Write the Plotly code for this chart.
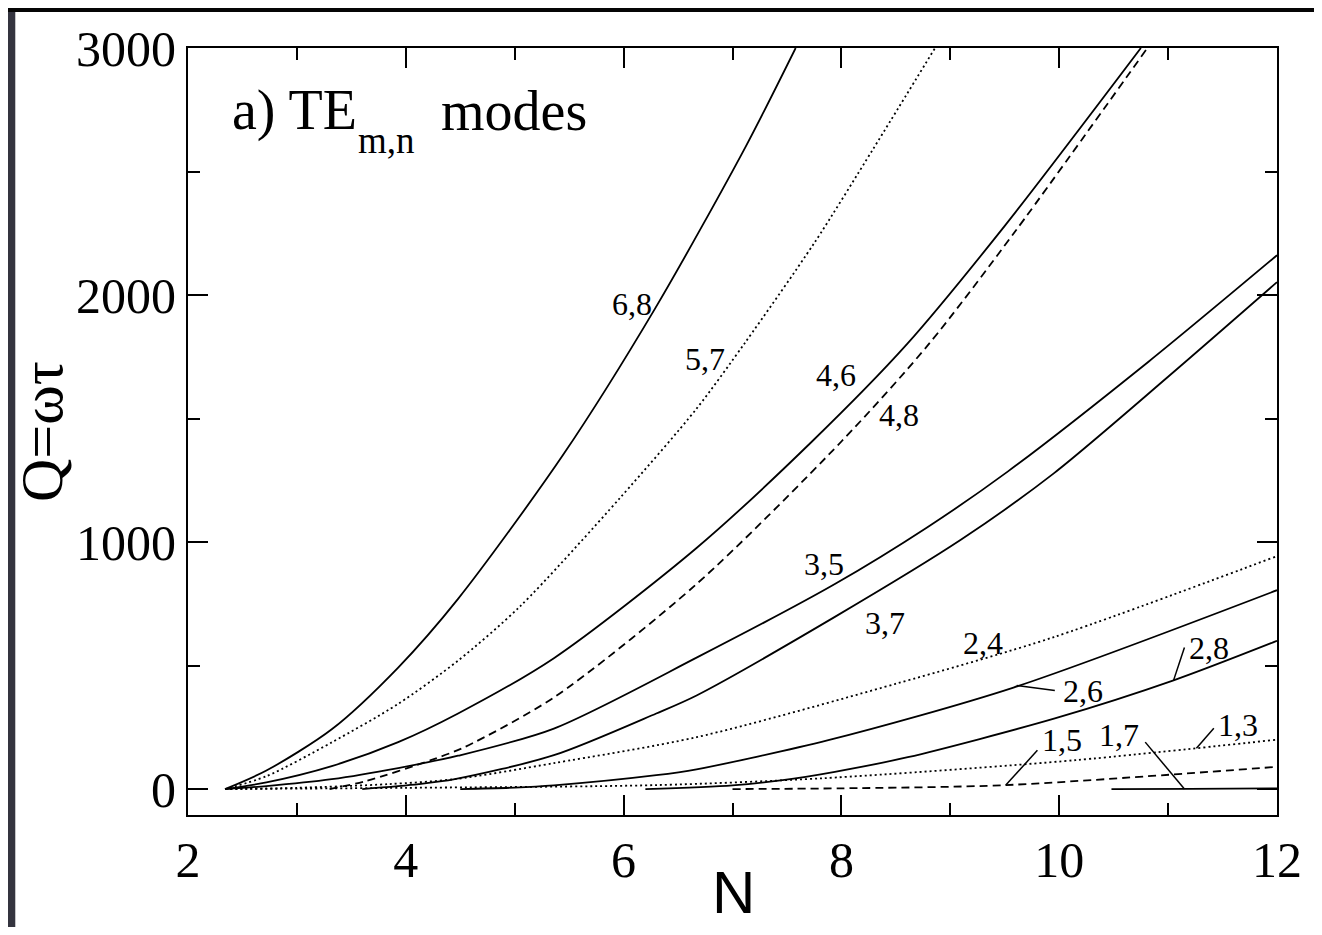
"Q factor of TE modes vs N"

import plotly.graph_objects as go

# mode labels, line styles and curve samples
modes = ["6,8", "5,7", "4,6", "4,8", "3,5", "3,7", "2,4", "2,6", "2,8", "1,3", "1,5", "1,7"]
styles = ["solid", "dot", "solid", "dash", "solid", "solid", "dot", "solid", "solid", "dot", "dash", "solid"]

n_68 = [2.34, 2.72, 3.32, 3.93, 4.48, 5.44, 6.29, 7.12, 7.58]
q_68 = [0, 75, 242, 492, 770, 1350, 1946, 2600, 3000]

n_57 = [2.34, 2.72, 3.32, 3.93, 4.48, 5.05, 5.97, 6.67, 7.12, 7.75, 8.29, 8.86]
q_57 = [0, 52, 189, 345, 520, 740, 1180, 1540, 1810, 2210, 2590, 3000]

n_46 = [2.34, 2.72, 3.32, 3.93, 4.48, 5.36, 6.67, 7.73, 8.6, 9.5, 10.75]
q_46 = [0, 27, 93, 190, 306, 530, 976, 1407, 1800, 2280, 3000]

n_48 = [3.3, 3.63, 4.23, 4.54, 5.36, 6.67, 8.0, 8.8, 9.6, 10.81]
q_48 = [0, 32, 117, 170, 371, 830, 1407, 1800, 2260, 3000]

n_35 = [2.34, 2.72, 3.32, 3.93, 4.48, 5.36, 6.67, 7.94, 8.79, 9.53, 10.82, 12]
q_35 = [0, 12, 40, 85, 135, 245, 532, 830, 1060, 1286, 1730, 2161]

n_37 = [3.6, 4.12, 4.45, 5.36, 6.3, 6.67, 7.94, 9.1, 9.95, 11.0, 12]
q_37 = [0, 20, 40, 137, 306, 379, 697, 1010, 1278, 1669, 2052]

n_24 = [2.34, 3.0, 3.84, 4.45, 5.36, 6.67, 8.49, 9.95, 12]
q_24 = [0, 5, 20, 40, 105, 210, 425, 615, 943]

n_26 = [4.5, 5.0, 5.36, 6.3, 6.67, 7.88, 9.58, 12]
q_26 = [0, 6, 15, 56, 80, 198, 411, 805]

n_28 = [6.2, 7.0, 7.46, 7.94, 8.61, 9.96, 11.05, 12]
q_28 = [0, 15, 36, 70, 129, 286, 440, 600]

n_13 = [2.34, 4.0, 6.3, 7.84, 10.15, 12]
q_13 = [0, 5, 16, 44, 117, 200]

n_15 = [7.0, 8.0, 9.51, 12]
q_15 = [0, 3, 16, 90]

n_17 = [10.48, 11.2, 12]
q_17 = [0, 1, 3]

curves_n = [n_68, n_57, n_46, n_48, n_35, n_37, n_24, n_26, n_28, n_13, n_15, n_17]
curves_q = [q_68, q_57, q_46, q_48, q_35, q_37, q_24, q_26, q_28, q_13, q_15, q_17]

# label positions (N, Q)
label_n = [6.08, 6.75, 7.95, 8.53, 7.84, 8.40, 9.30, 10.22, 11.38, 11.64, 10.03, 10.55]
label_q = [1962, 1742, 1677, 1516, 911, 673, 593, 399, 573, 258, 198, 218]

# leader lines: (N0, Q0, N1, Q1)
leaders = [
    (9.61, 419, 9.96, 399),
    (11.05, 440, 11.15, 573),
    (11.26, 165, 11.42, 246),
    (9.51, 16, 9.80, 157),
    (10.79, 190, 11.15, 0),
]

dash_map = {"solid": "solid", "dot": "2px,3px", "dash": "8px,5px"}

fig = go.Figure()
for name, st, xs, ys in zip(modes, styles, curves_n, curves_q):
    fig.add_trace(go.Scatter(
        x=xs, y=ys, mode="lines", name=name,
        line=dict(color="black", width=1.8, dash=dash_map[st], shape="spline", smoothing=0.8),
    ))

serif = "Liberation Serif, Times New Roman, serif"

for name, lx, ly in zip(modes, label_n, label_q):
    fig.add_annotation(x=lx, y=ly, text=name, showarrow=False,
                       font=dict(family=serif, size=32, color="black"))

for (x0, y0, x1, y1) in leaders:
    fig.add_shape(type="line", x0=x0, y0=y0, x1=x1, y1=y1, xref="x", yref="y",
                  line=dict(color="black", width=1.5))

# panel title, subscript placed by hand
fig.add_annotation(xref="paper", yref="paper", x=0.0383, y=0.918, xanchor="left", yanchor="middle",
                   text="a) TE", showarrow=False, font=dict(family=serif, size=56, color="black"))
fig.add_annotation(xref="paper", yref="paper", x=0.154, y=0.879, xanchor="left", yanchor="middle",
                   text="m,n", showarrow=False, font=dict(family=serif, size=37, color="black"))
fig.add_annotation(xref="paper", yref="paper", x=0.2306, y=0.918, xanchor="left", yanchor="middle",
                   text="modes", showarrow=False, font=dict(family=serif, size=56, color="black"))

# axis titles
fig.add_annotation(xref="paper", yref="paper", x=-0.1345, y=0.5, xanchor="center", yanchor="middle",
                   textangle=-90, text="Q=\u03c9\u03c4", showarrow=False,
                   font=dict(family=serif, size=60, color="black"))
fig.add_annotation(xref="paper", yref="paper", x=0.501, y=-0.1013, xanchor="center", yanchor="middle",
                   text="N", showarrow=False,
                   font=dict(family="Liberation Sans, Arial, sans-serif", size=60, color="black"))

# dark edges of the screenshot
fig.add_shape(type="rect", xref="paper", yref="paper", x0=-0.17, x1=-0.1586, y0=-0.16, y1=1.06,
              fillcolor="#34343f", line_width=0, layer="below")
fig.add_shape(type="rect", xref="paper", yref="paper", x0=-0.17, x1=1.04, y0=1.0468, y1=1.06,
              fillcolor="#050505", line_width=0, layer="below")

axis_common = dict(
    showline=True, linecolor="black", linewidth=2, mirror="allticks",
    ticks="inside", tickcolor="black", tickwidth=2, ticklen=20,
    showgrid=False, zeroline=False,
    tickfont=dict(family=serif, size=50, color="black"),
)
fig.update_xaxes(range=[2, 12], dtick=2, tick0=2,
                 minor=dict(ticks="inside", ticklen=12, tickwidth=2, tickcolor="black", dtick=1, showgrid=False),
                 **axis_common)
fig.update_yaxes(range=[-105, 3000], dtick=1000, tick0=0,
                 minor=dict(ticks="inside", ticklen=12, tickwidth=2, tickcolor="black", dtick=500, showgrid=False),
                 **axis_common)

fig.update_layout(width=1306, height=919, showlegend=False,
                  margin=dict(l=180, r=29, t=37, b=112),
                  paper_bgcolor="white", plot_bgcolor="white")

fig.write_html("out.html")
